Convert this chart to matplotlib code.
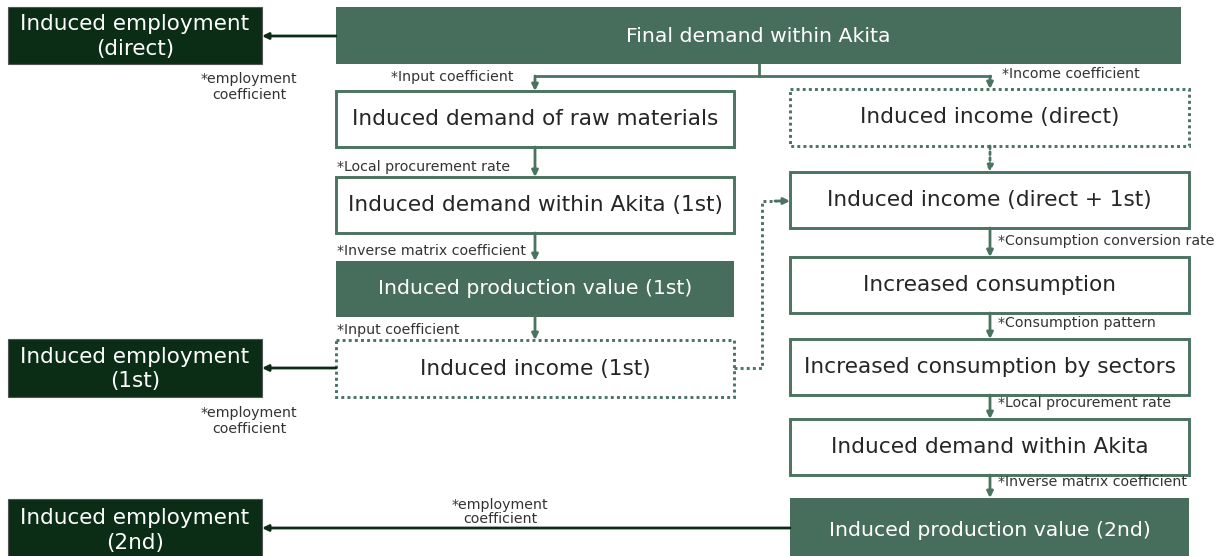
import matplotlib
matplotlib.use('Agg')
import matplotlib.pyplot as plt
from matplotlib.patches import Rectangle

# 色
MID = '#476e5d'
DARK = '#0b2d16'
EDGE = '#4a7361'
TXT = '#262626'
DOT = (0, (1, 1.1))

# ボックスのテキスト
left_boxes = ['Induced demand of raw materials', 'Induced demand within Akita (1st)',
              'Induced production value (1st)', 'Induced income (1st)']
right_boxes = ['Induced income (direct)', 'Induced income (direct + 1st)',
               'Increased consumption', 'Increased consumption by sectors',
               'Induced demand within Akita', 'Induced production value (2nd)']
emp_boxes = ['Induced employment\n(direct)', 'Induced employment\n(1st)',
             'Induced employment\n(2nd)']
top_box = 'Final demand within Akita'
left_notes = ['*Input coefficient', '*Local procurement rate',
              '*Inverse matrix coefficient', '*Input coefficient']
right_notes = ['*Income coefficient', '', '*Consumption conversion rate',
               '*Consumption pattern', '*Local procurement rate',
               '*Inverse matrix coefficient']
emp_note = '*employment\ncoefficient'

# レイアウト (px)
L_X, L_W = 336, 398
R_X, R_W = 790, 399
left_y = [(91, 147), (177, 233), (261, 317), (340, 397)]
left_style = ['solid', 'solid', 'fill', 'dot']
right_y = [(89, 146), (172, 228), (257, 313), (339, 395), (419, 475), (498, 570)]
right_style = ['dot', 'solid', 'solid', 'solid', 'solid', 'fill']
emp_y = [(7, 64), (339, 397), (499, 570)]


def box(ax, x, y0, y1, w, text, style):
    lsp = 1.15
    if style == 'fill':
        ax.add_patch(Rectangle((x, y0), w, y1 - y0, fc=MID, ec='none'))
        col, size = 'white', 14.7
    elif style == 'dark':
        ax.add_patch(Rectangle((x, y0), w, y1 - y0, fc=DARK, ec='#555555', lw=0.8))
        col, size, lsp = 'white', 15.5, 1.3
    else:
        ls = '-' if style == 'solid' else DOT
        ax.add_patch(Rectangle((x, y0), w, y1 - y0, fc='white', ec=EDGE, lw=2.1, ls=ls))
        col, size = TXT, 15.6
    if y1 > 556:
        yc = (y0 + 556) / 2 + 3
    else:
        yc = (y0 + y1) / 2 + (1 if style == 'dark' else 0)
    ax.text(x + w / 2, yc, text, ha='center', va='center', color=col, fontsize=size,
            linespacing=lsp)


def arrow(ax, x0, y0, x1, y1, color=EDGE, ls='-', lw=2.0):
    ax.annotate('', xy=(x1, y1), xytext=(x0, y0),
                arrowprops=dict(arrowstyle='-|>', color=color, lw=lw, ls=ls,
                                mutation_scale=9, shrinkA=0, shrinkB=0))


def note(ax, x, y, text, ha='left', ls=1.2):
    ax.text(x, y, text, ha=ha, va='center', fontsize=10.2, color='#333333',
            linespacing=ls)


fig = plt.figure(figsize=(12.28, 5.56), dpi=100)
ax = fig.add_axes([0, 0, 1, 1])
ax.set_xlim(0, 1228)
ax.set_ylim(556, 0)
ax.axis('off')

# 最終需要
ax.add_patch(Rectangle((336, 7), 845, 57, fc=MID, ec='none'))
ax.text(758, 36, top_box, ha='center', va='center', color='white', fontsize=14.7)

# 分岐線
ax.plot([759, 759], [64, 76], color=EDGE, lw=2)
ax.plot([535, 990], [76, 76], color=EDGE, lw=2)
arrow(ax, 535, 76, 535, 91)
arrow(ax, 990, 76, 990, 89)

# 左列
for (y0, y1), t, s in zip(left_y, left_boxes, left_style):
    box(ax, L_X, y0, y1, L_W, t, s)
for i in range(3):
    arrow(ax, 535, left_y[i][1], 535, left_y[i + 1][0])
note(ax, 391, 77, left_notes[0])
for i in range(1, 4):
    note(ax, 337, left_y[i][0] - 10, left_notes[i])

# 右列
for (y0, y1), t, s in zip(right_y, right_boxes, right_style):
    box(ax, R_X, y0, y1, R_W, t, s)
arrow(ax, 990, right_y[0][1], 990, right_y[1][0], ls=DOT)
for i in range(1, 5):
    arrow(ax, 990, right_y[i][1], 990, right_y[i + 1][0])
note(ax, 1002, 74, right_notes[0])
for i in range(2, 6):
    note(ax, 998, right_y[i][0] - 16, right_notes[i])

# 点線の接続
ax.plot([734, 762, 762, 776], [368, 368, 201, 201], color=EDGE, lw=2.1, ls=DOT)
arrow(ax, 775, 201, 790, 201, ls='-')

# 雇用
for (y0, y1), t in zip(emp_y, emp_boxes):
    box(ax, 8, y0, y1, 254, t, 'dark')
arrow(ax, 336, 36, 262, 36, color=DARK)
arrow(ax, 336, 368, 262, 368, color=DARK)
arrow(ax, 790, 528, 262, 528, color=DARK)
note(ax, 249, 87, emp_note, ha='center')
note(ax, 249, 421, emp_note, ha='center')
note(ax, 500, 512, emp_note, ha='center', ls=1.0)

fig.savefig('out.png', dpi=100)
